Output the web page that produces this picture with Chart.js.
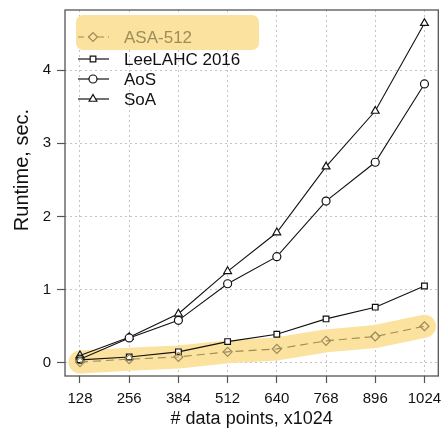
<!DOCTYPE html>
<html>
<head>
<meta charset="utf-8">
<script src="https://cdn.jsdelivr.net/npm/chart.js@4.4.1/dist/chart.umd.min.js"></script>
<style>
  html, body { margin: 0; padding: 0; background: #fff; }
  #wrap { width: 444px; height: 430px; }
</style>
</head>
<body>
<div id="wrap"><canvas id="runtimeChart" width="444" height="430"></canvas></div>
<script>
// data points (x1024)
const sizes = [128, 256, 384, 512, 640, 768, 896, 1024];
const yTicks = [0, 1, 2, 3, 4];

// runtime in seconds
const asa512 = [0.01, 0.05, 0.08, 0.15, 0.19, 0.30, 0.36, 0.50];
const leeLahc = [0.04, 0.08, 0.15, 0.29, 0.39, 0.60, 0.76, 1.05];
const aos = [0.05, 0.34, 0.58, 1.08, 1.45, 2.21, 2.74, 3.81];
const soa = [0.10, 0.35, 0.67, 1.25, 1.78, 2.68, 3.44, 4.64];

const FONT = "'Liberation Sans', Arial, sans-serif";
const HIGHLIGHT = '#fbe29e';
const ASA_COLOR = '#9c8c5a';

const pts = arr => arr.map((v, i) => ({ x: sizes[i], y: v }));

const series = [
    { label: 'ASA-512', data: asa512, style: 'rectRot', color: ASA_COLOR, dash: [8, 5], fill: 'rgba(0,0,0,0)' },
    { label: 'LeeLAHC 2016', data: leeLahc, style: 'rect', color: '#111', dash: [], fill: '#fff' },
    { label: 'AoS', data: aos, style: 'circle', color: '#111', dash: [], fill: '#fff' },
    { label: 'SoA', data: soa, style: 'triangle', color: '#111', dash: [], fill: '#fff' }
];

const markerSize = s => s === 'triangle' ? 4.5 : (s === 'rectRot' ? 4.5 : 4);

const datasets = [{
    // highlight band behind ASA-512
    label: 'band',
    data: pts(asa512),
    borderColor: HIGHLIGHT,
    borderWidth: 23,
    borderCapStyle: 'round',
    borderJoinStyle: 'round',
    pointRadius: 0,
    order: 10
}];

series.forEach(s => {
    datasets.push({
        label: s.label,
        data: pts(s.data),
        borderColor: s.color,
        borderWidth: 1.1,
        borderDash: s.dash,
        pointStyle: s.style,
        pointRadius: markerSize(s.style),
        pointBorderColor: s.color,
        pointBackgroundColor: s.fill,
        pointBorderWidth: 1.2,
        order: 1
    });
});

// box, axis title and legend
const decor = {
    id: 'decor',
    beforeDatasetsDraw(chart) {
        const { ctx, chartArea: a } = chart;
        ctx.save();
        ctx.strokeStyle = '#555';
        ctx.lineWidth = 1.3;
        ctx.strokeRect(a.left, a.top, a.right - a.left, a.bottom - a.top);
        ctx.restore();
    },
    afterDatasetsDraw(chart) {
        const { ctx } = chart;
        ctx.save();

        // y title
        ctx.translate(22, 170);
        ctx.rotate(-Math.PI / 2);
        ctx.fillStyle = '#111';
        ctx.font = '20px ' + FONT;
        ctx.textAlign = 'center';
        ctx.textBaseline = 'middle';
        ctx.fillText('Runtime, sec.', 0, 0);
        ctx.setTransform(1, 0, 0, 1, 0, 0);

        // legend highlight
        ctx.fillStyle = HIGHLIGHT;
        ctx.beginPath();
        ctx.roundRect(76, 15, 183, 35, 7);
        ctx.fill();

        const rows = [37, 59, 79, 99];
        ctx.font = '17px ' + FONT;
        ctx.textAlign = 'left';
        ctx.textBaseline = 'middle';
        series.forEach((s, i) => {
            const y = rows[i];
            ctx.strokeStyle = s.color;
            ctx.lineWidth = 1.2;
            ctx.setLineDash(s.dash.length ? [6, 4] : []);
            ctx.beginPath();
            ctx.moveTo(78, y);
            ctx.lineTo(109, y);
            ctx.stroke();
            ctx.setLineDash([]);
            ctx.fillStyle = s.fill === '#fff' ? '#fff' : HIGHLIGHT;
            Chart.helpers.drawPoint(ctx, {
                pointStyle: s.style,
                radius: markerSize(s.style),
                rotation: 0,
                borderWidth: 1.2
            }, 93, y);
            ctx.fillStyle = s.color === '#111' ? '#111' : ASA_COLOR;
            ctx.fillText(s.label, 124, y + 1);
        });
        ctx.restore();
    }
};

new Chart(document.getElementById('runtimeChart'), {
    type: 'line',
    data: { datasets },
    plugins: [decor],
    options: {
        responsive: false,
        animation: false,
        layout: { padding: { top: 10, right: 5, left: 0, bottom: 0 } },
        plugins: { legend: { display: false }, tooltip: { enabled: false } },
        scales: {
            x: {
                type: 'linear',
                min: 89,
                max: 1060,
                afterBuildTicks: sc => { sc.ticks = sizes.map(v => ({ value: v })); },
                afterFit: sc => {
                    sc.height = 54;
                    sc.paddingLeft = 0;
                    sc.paddingRight = 0;
                },
                grid: {
                    color: '#c4c4c4',
                    lineWidth: 1,
                    drawTicks: true,
                    tickLength: 7,
                    tickColor: '#555',
                    tickWidth: 1.2
                },
                border: { display: false, dash: [2, 3] },
                ticks: {
                    color: '#111',
                    font: { family: FONT, size: 15 },
                    padding: 7,
                    maxRotation: 0,
                    autoSkip: false,
                    callback: v => String(v)
                },
                title: {
                    display: true,
                    text: '# data points, x1024',
                    color: '#111',
                    font: { family: FONT, size: 18 },
                    padding: { top: 0, bottom: 0 }
                }
            },
            y: {
                type: 'linear',
                min: -0.18,
                max: 4.82,
                afterBuildTicks: sc => { sc.ticks = yTicks.map(v => ({ value: v })); },
                afterFit: sc => {
                    sc.width = 65;
                    sc.paddingTop = 0;
                    sc.paddingBottom = 0;
                },
                grid: {
                    color: '#c4c4c4',
                    lineWidth: 1,
                    drawTicks: true,
                    tickLength: 8,
                    tickColor: '#555',
                    tickWidth: 1.2
                },
                border: { display: false, dash: [2, 3] },
                ticks: {
                    color: '#111',
                    font: { family: FONT, size: 15 },
                    padding: 6,
                    callback: v => String(v)
                }
            }
        }
    }
});
</script>
</body>
</html>
